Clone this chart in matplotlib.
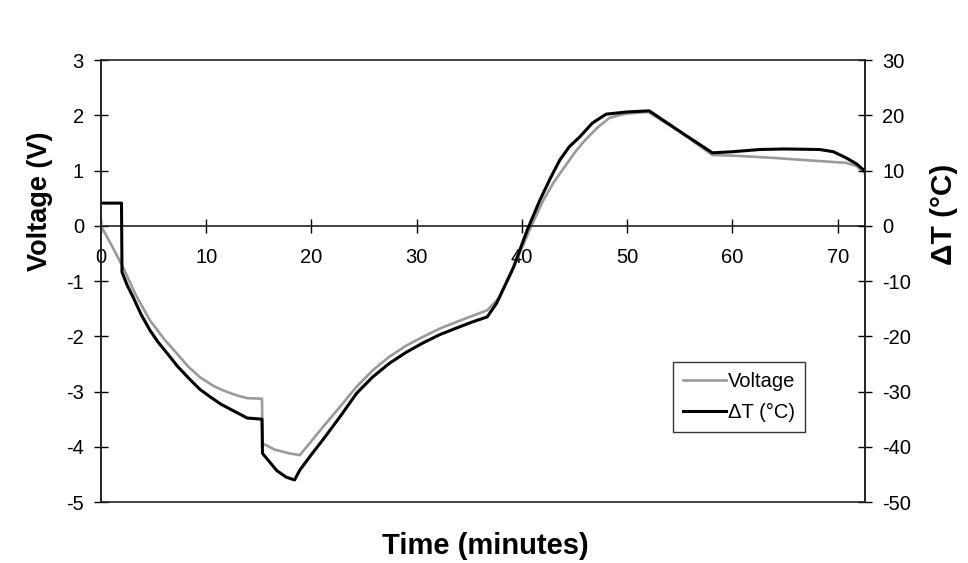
import matplotlib
matplotlib.use("Agg")
import matplotlib.pyplot as plt

plt.rcParams["font.family"] = ["Liberation Sans", "DejaVu Sans"]
plt.rcParams["axes.unicode_minus"] = False

# Voltage (left axis, V)
time_v = [0, 1.0, 2.1, 3.3, 4.65, 6.0, 7.2, 8.3, 9.4, 10.7, 11.5, 12.3, 13.1,
          13.9, 15.3, 15.35, 16.5, 17.9, 18.9, 19.9, 21.1, 22.7, 24.3, 25.8,
          27.4, 29.0, 30.6, 32.2, 33.8, 35.3, 36.7, 37.9, 39.0, 40.9, 42.0,
          43.0, 44.0, 45.0, 46.0, 47.2, 48.3, 49.2, 50.0, 52.0, 55.0, 58.1,
          60.0, 63.8, 68.3, 70.8, 71.8, 72.6]
voltage = [0, -0.35, -0.75, -1.25, -1.71, -2.05, -2.31, -2.55, -2.74, -2.90,
           -2.97, -3.03, -3.08, -3.12, -3.13, -3.94, -4.05, -4.12, -4.15,
           -3.92, -3.64, -3.28, -2.91, -2.62, -2.37, -2.17, -2.01, -1.86,
           -1.74, -1.63, -1.53, -1.29, -0.85, 0.0, 0.45, 0.78, 1.05, 1.32,
           1.55, 1.78, 1.95, 2.00, 2.03, 2.06, 1.70, 1.28, 1.27, 1.23, 1.17,
           1.14, 1.08, 0.95]

# Delta T (right axis, deg C)
time_t = [0, 1.95, 2.0, 2.5, 3.05, 3.8, 4.65, 5.4, 6.3, 7.3, 8.5, 9.4, 10.4,
          11.4, 12.5, 13.9, 15.3, 15.35, 16.7, 17.6, 18.4, 18.9, 20.0, 21.1,
          22.7, 24.3, 25.8, 27.4, 29.0, 30.6, 32.2, 33.8, 35.3, 36.7, 37.6,
          39.2, 40.5, 41.7, 42.7, 43.6, 44.5, 45.5, 46.7, 48.0, 49.0, 50.0,
          51.0, 52.1, 55.3, 58.1, 60.0, 62.6, 65.0, 68.3, 69.6, 70.8, 71.8,
          72.6]
delta_t = [4.1, 4.1, -8.4, -10.8, -12.9, -16.0, -18.9, -21.0, -23.1, -25.5,
           -27.9, -29.6, -31.0, -32.3, -33.4, -34.8, -35.0, -41.2, -44.3,
           -45.5, -46.0, -44.2, -41.4, -38.7, -34.6, -30.3, -27.4, -24.9,
           -22.9, -21.2, -19.7, -18.5, -17.4, -16.5, -14.0, -7.5, -0.8, 4.6,
           8.6, 11.9, 14.3, 16.1, 18.6, 20.2, 20.4, 20.6, 20.7, 20.8, 16.7,
           13.2, 13.4, 13.8, 13.9, 13.8, 13.4, 12.3, 11.2, 9.9]

x_ticks = [0, 10, 20, 30, 40, 50, 60, 70]
v_ticks = [-5, -4, -3, -2, -1, 0, 1, 2, 3]
t_ticks = [-50, -40, -30, -20, -10, 0, 10, 20, 30]

fig = plt.figure(figsize=(9.68, 5.63), dpi=100)
ax = fig.add_axes([0.1043, 0.1083, 0.7893, 0.7851])
ax2 = ax.twinx()

l1, = ax.plot(time_v, voltage, color="#9a9a9a", lw=1.9, label="Voltage")
l2, = ax2.plot(time_t, delta_t, color="black", lw=2.2, label="ΔT (°C)")

ax.set_xlim(0, 72.6)
ax.set_ylim(-5, 3)
ax2.set_ylim(-50, 30)
ax.set_xticks(x_ticks)
ax.set_yticks(v_ticks)
ax2.set_yticks(t_ticks)

ax.spines["bottom"].set_position(("data", 0))
ax.spines["top"].set_visible(False)
for s in list(ax.spines.values()) + list(ax2.spines.values()):
    s.set_color("#222222")
    s.set_linewidth(1.2)

ax.tick_params(axis="x", direction="inout", length=10, width=1, labelsize=14.5, pad=11)
ax.tick_params(axis="y", direction="inout", length=10.5, width=1, labelsize=14.5, pad=7)
ax2.tick_params(axis="y", direction="inout", length=10.5, width=1, labelsize=14.5, pad=7)

ax.set_xlabel("Time (minutes)", fontsize=21, fontweight="bold")
ax.xaxis.set_label_coords(0.503, -0.1)
ax.xaxis.label.set_va("center")
ax.set_ylabel("Voltage (V)", fontsize=19.5, fontweight="bold")
ax.yaxis.set_label_coords(-0.08, 0.68)
ax.yaxis.label.set_va("center")
ax2.set_ylabel("ΔT (°C)", fontsize=21.5, fontweight="bold")
ax2.yaxis.set_label_coords(1.104, 0.65)
ax2.yaxis.label.set_va("center")

leg = ax2.legend(handles=[l1, l2], loc="lower left", bbox_to_anchor=(0.749, 0.158),
                 borderaxespad=0, fontsize=14.5, frameon=True, fancybox=False,
                 handlelength=2.1, handletextpad=0.1, labelspacing=0.6,
                 borderpad=0.5)
leg.get_frame().set_edgecolor("black")
leg.get_frame().set_linewidth(1.0)

fig.savefig("out.png", dpi=100)
